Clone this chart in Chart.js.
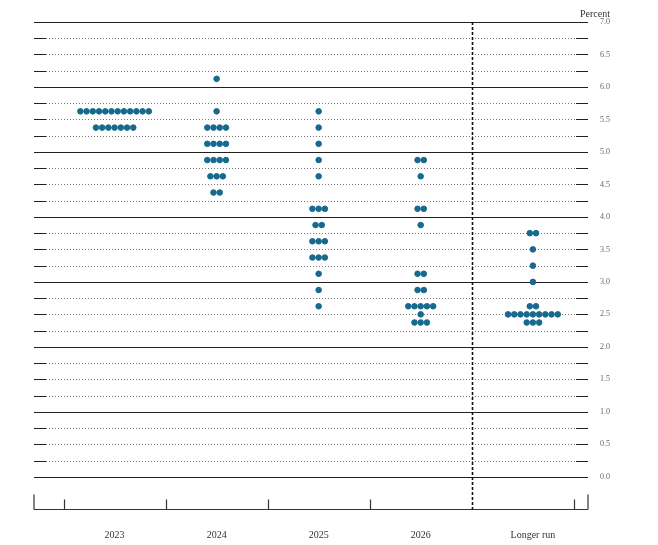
<!DOCTYPE html>
<html>
<head>
<meta charset="utf-8">
<script src="https://cdn.jsdelivr.net/npm/chart.js@4"></script>
<style>
  body { margin: 0; background: #fff; }
  #wrap { width: 658px; height: 545px; }
</style>
</head>
<body>
<div id="wrap"><canvas id="chart"></canvas></div>
<script>
const categories = ['2023', '2024', '2025', '2026', 'Longer run'];
const catCenters = [1, 2, 3, 4, 5.1];
// [rate, number of participants] per column
const dots2023 = [[5.625, 12], [5.375, 7]];
const dots2024 = [[6.125, 1], [5.625, 1], [5.375, 4], [5.125, 4], [4.875, 4], [4.625, 3], [4.375, 2]];
const dots2025 = [[5.625, 1], [5.375, 1], [5.125, 1], [4.875, 1], [4.625, 1], [4.125, 3], [3.875, 2], [3.625, 3], [3.375, 3], [3.125, 1], [2.875, 1], [2.625, 1]];
const dots2026 = [[4.875, 2], [4.625, 1], [4.125, 2], [3.875, 1], [3.125, 2], [2.875, 2], [2.625, 5], [2.5, 1], [2.375, 3]];
const dotsLonger = [[3.75, 2], [3.5, 1], [3.25, 1], [3.0, 1], [2.625, 2], [2.5, 9], [2.375, 3]];
const yTickLabels = ['0.0', '0.5', '1.0', '1.5', '2.0', '2.5', '3.0', '3.5', '4.0', '4.5', '5.0', '5.5', '6.0', '6.5', '7.0'];

const columns = [dots2023, dots2024, dots2025, dots2026, dotsLonger];
const points = [];
const step = 0.061;
columns.forEach((col, i) => {
  col.forEach(([rate, n]) => {
    for (let k = 0; k < n; k++) {
      points.push({ x: catCenters[i] + (k - (n - 1) / 2) * step, y: rate });
    }
  });
});

const frame = {
  id: 'frame',
  beforeDatasetsDraw(chart) {
    const { ctx, chartArea: a, scales: { x, y } } = chart;
    ctx.save();
    // horizontal grid
    for (let i = 0; i <= 28; i++) {
      const v = i * 0.25;
      const py = Math.round(y.getPixelForValue(v)) + 0.5;
      const major = i % 4 === 0;
      ctx.strokeStyle = '#222';
      ctx.lineWidth = major ? 1.2 : 0.8;
      if (major) {
        ctx.setLineDash([]);
        ctx.beginPath(); ctx.moveTo(a.left, py); ctx.lineTo(a.right, py); ctx.stroke();
      } else {
        ctx.setLineDash([1, 2]);
        ctx.strokeStyle = '#555';
        ctx.beginPath(); ctx.moveTo(a.left + 12, py); ctx.lineTo(a.right - 12, py); ctx.stroke();
        ctx.setLineDash([]);
        ctx.strokeStyle = '#222';
        ctx.lineWidth = 1.2;
        ctx.beginPath(); ctx.moveTo(a.left, py); ctx.lineTo(a.left + 12, py);
        ctx.moveTo(a.right - 12, py); ctx.lineTo(a.right, py); ctx.stroke();
      }
    }
    // bottom axis
    const by = Math.round(y.getPixelForValue(-0.5)) + 0.5;
    ctx.strokeStyle = '#333';
    ctx.lineWidth = 1.2;
    ctx.beginPath();
    ctx.moveTo(a.left, by); ctx.lineTo(a.right, by);
    ctx.moveTo(a.left, by); ctx.lineTo(a.left, by - 15);
    ctx.moveTo(a.right, by); ctx.lineTo(a.right, by - 15);
    for (let t = 0.5; t <= 5.5; t += 1) {
      if (t === 4.5) continue;
      const px = Math.round(x.getPixelForValue(t)) + 0.5;
      ctx.moveTo(px, by); ctx.lineTo(px, by - 10);
    }
    ctx.stroke();
    // dashed divider
    const dx = Math.round(x.getPixelForValue(4.5)) + 0.5;
    ctx.setLineDash([3, 2]);
    ctx.lineWidth = 1.6;
    ctx.strokeStyle = '#111';
    ctx.beginPath(); ctx.moveTo(dx, a.top); ctx.lineTo(dx, by); ctx.stroke();
    ctx.setLineDash([]);
    // labels
    ctx.fillStyle = '#333';
    ctx.font = '10px "Liberation Serif"';
    ctx.textAlign = 'center';
    ctx.textBaseline = 'middle';
    categories.forEach((c, i) => ctx.fillText(c, x.getPixelForValue(catCenters[i]), by + 26));
    ctx.fillStyle = '#666';
    ctx.font = '8px "Liberation Serif"';
    ctx.textAlign = 'left';
    yTickLabels.forEach(l => ctx.fillText(l, a.right + 12, y.getPixelForValue(parseFloat(l))));
    ctx.fillStyle = '#333';
    ctx.font = '10px "Liberation Serif"';
    ctx.fillText('Percent', a.right - 8, a.top - 8);
    ctx.restore();
  }
};

new Chart(document.getElementById('chart'), {
  type: 'scatter',
  data: {
    datasets: [{
      data: points,
      backgroundColor: '#17698e',
      borderColor: '#17698e',
      pointRadius: 2.8,
      pointHoverRadius: 2.8
    }]
  },
  options: {
    responsive: true,
    maintainAspectRatio: false,
    animation: false,
    layout: { padding: { left: 34, right: 70, top: 22, bottom: 37 } },
    plugins: { legend: { display: false }, tooltip: { enabled: false } },
    scales: {
      x: { type: 'linear', min: 0.21, max: 5.64, display: false },
      y: { type: 'linear', min: -0.48, max: 7, display: false }
    }
  },
  plugins: [frame]
});
</script>
</body>
</html>
